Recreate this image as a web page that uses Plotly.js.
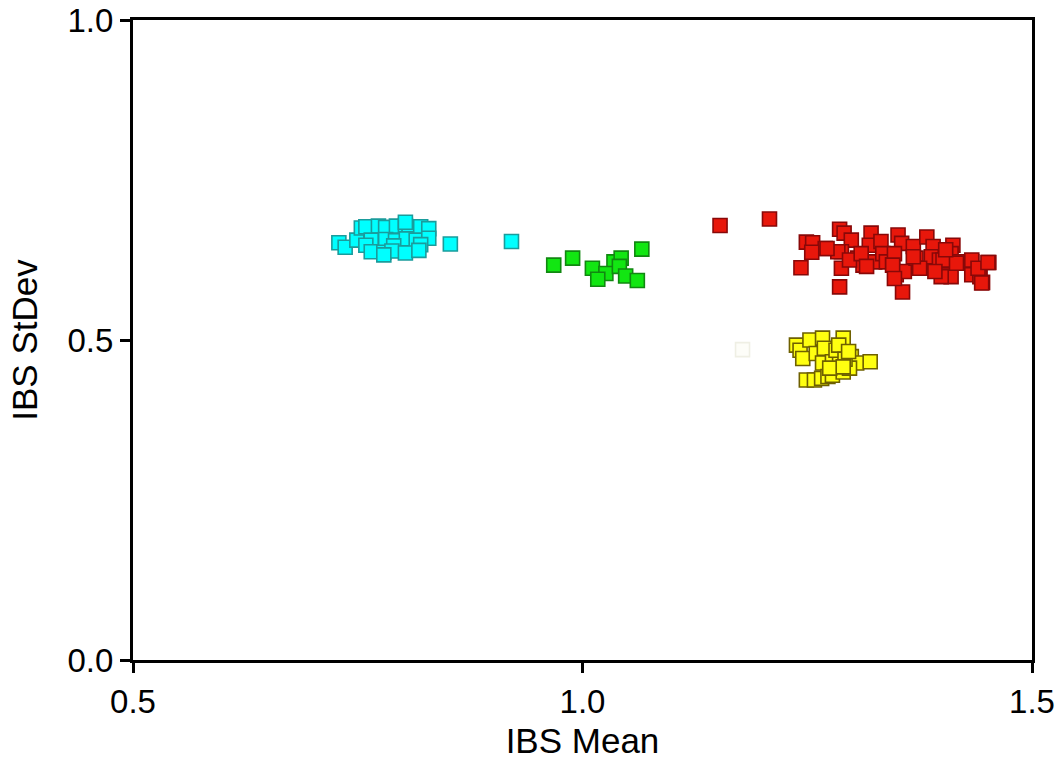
<!DOCTYPE html>
<html>
<head>
<meta charset="utf-8">
<script src="https://cdn.plot.ly/plotly-3.0.1.min.js"></script>
<style>html,body{margin:0;padding:0;background:#fff;}#chart{width:1061px;height:760px;}</style>
</head>
<body>
<div id="chart"></div>
<script>
// Cyan group
const cyanX = [0.729,0.736,0.749,0.754,0.759,0.773,0.781,0.793,0.803,0.807,0.820,0.829,0.803,0.765,0.781,0.792,0.804,0.815,0.829,0.759,0.790,0.820,0.765,0.779,0.788,0.803,0.818,0.779,0.853,0.921];
const cyanY = [0.652,0.645,0.656,0.675,0.677,0.678,0.676,0.678,0.679,0.676,0.677,0.674,0.684,0.656,0.657,0.655,0.658,0.656,0.659,0.648,0.647,0.649,0.638,0.637,0.639,0.636,0.640,0.633,0.650,0.654];
// Green group
const greenX = [0.968,0.989,1.011,1.035,1.026,1.017,1.043,1.041,1.048,1.061,1.066];
const greenY = [0.617,0.628,0.612,0.622,0.604,0.595,0.628,0.615,0.600,0.593,0.642];
// Red group
const redX = [1.153,1.208,1.243,1.286,1.356,1.249,1.256,1.270,1.286,1.291,1.299,1.288,1.288,1.306,1.312,1.321,1.319,1.325,1.332,1.334,1.338,1.345,1.351,1.355,1.349,1.358,1.368,1.371,1.377,1.383,1.390,1.388,1.397,1.403,1.410,1.412,1.410,1.418,1.433,1.433,1.442,1.445,1.452,1.442,
  1.284,1.297,1.310,1.316,1.255,1.272,1.347,1.345,1.375,1.368,1.401,1.416,1.399,1.433,1.440,1.444,1.451,1.347,1.392,1.404];
const redY = [0.679,0.689,0.613,0.583,0.575,0.653,0.652,0.643,0.673,0.667,0.656,0.638,0.612,0.628,0.617,0.667,0.648,0.622,0.654,0.635,0.622,0.617,0.664,0.651,0.602,0.607,0.646,0.628,0.612,0.661,0.646,0.630,0.625,0.602,0.599,0.648,0.635,0.622,0.622,0.602,0.609,0.590,0.621,0.599,
  0.638,0.625,0.635,0.615,0.637,0.643,0.635,0.617,0.612,0.630,0.625,0.620,0.599,0.625,0.612,0.589,0.621,0.596,0.607,0.641];
// Yellow group
const yellowX = [1.238,1.242,1.245,1.253,1.260,1.267,1.269,1.267,1.278,1.290,1.286,1.299,1.305,1.320,1.249,1.258,1.266,1.273,1.278,1.290,1.297,1.282,1.275,1.285,1.292,1.296,1.290];
const yellowY = [0.492,0.484,0.471,0.500,0.479,0.503,0.487,0.464,0.466,0.503,0.469,0.474,0.464,0.466,0.4375,0.4375,0.440,0.443,0.445,0.450,0.456,0.484,0.456,0.492,0.470,0.482,0.458];
// Faint outlier
const faintX = [1.178];
const faintY = [0.485];

const xTicks = [0.5, 1.0, 1.5];
const xTickText = ['0.5', '1.0', '1.5'];
const yTicks = [0.0, 0.5, 1.0];
const yTickText = ['0.0', '0.5', '1.0'];

function grp(x, y, fill, edge) {
  return {x: x, y: y, type: 'scatter', mode: 'markers', hoverinfo: 'x+y',
    marker: {symbol: 'square', size: 14, color: fill, line: {color: edge, width: 1.6}}};
}

const data = [
  grp(faintX, faintY, '#fdfdf8', '#efefe4'),
  grp(cyanX, cyanY, '#00ffff', '#1a9c9c'),
  grp(greenX, greenY, '#12e612', '#118811'),
  grp(redX, redY, '#e8170b', '#880808'),
  grp(yellowX, yellowY, '#ffff10', '#6e6000')
];

const fam = '"Liberation Sans", Arial, sans-serif';

const layout = {
  width: 1061, height: 760,
  margin: {l: 133, r: 29, t: 20, b: 100, pad: 0},
  paper_bgcolor: '#fff', plot_bgcolor: '#fff',
  showlegend: false,
  font: {family: fam, size: 32, color: '#000'},
  xaxis: {
    range: [0.5, 1.5], tickmode: 'array', tickvals: xTicks, ticktext: xTickText,
    showgrid: false, zeroline: false, showline: true, linecolor: '#000', linewidth: 3, mirror: true,
    ticks: 'outside', ticklen: 10, tickwidth: 3, tickcolor: '#000',
    tickfont: {family: fam, size: 33, color: '#000'},
    title: {text: 'IBS Mean', font: {family: fam, size: 35, color: '#000'}, standoff: 14}
  },
  yaxis: {
    range: [0, 1], tickmode: 'array', tickvals: yTicks, ticktext: yTickText,
    showgrid: false, zeroline: false, showline: true, linecolor: '#000', linewidth: 3, mirror: true,
    ticks: 'outside', ticklen: 10, tickwidth: 3, tickcolor: '#000',
    tickfont: {family: fam, size: 33, color: '#000'},
    title: {text: 'IBS StDev', font: {family: fam, size: 35, color: '#000'}, standoff: 20}
  }
};

Plotly.newPlot('chart', data, layout, {displayModeBar: false, staticPlot: true});
</script>
</body>
</html>
